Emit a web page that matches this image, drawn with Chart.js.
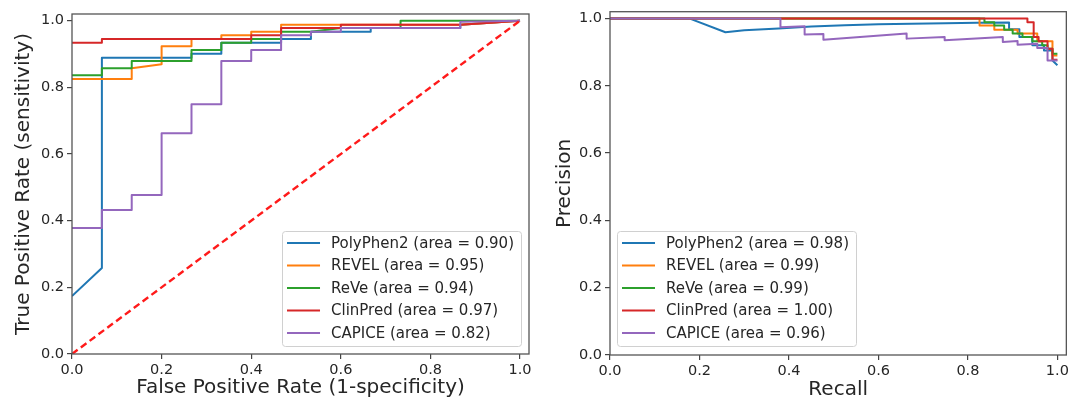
<!DOCTYPE html>
<html>
<head>
<meta charset="utf-8">
<title>ROC and precision-recall curves</title>
<script src="https://cdn.jsdelivr.net/npm/chart.js@4.4.1/dist/chart.umd.min.js"></script>
<style>
  html, body { margin: 0; padding: 0; background: #fff; }
  #wrap { position: relative; width: 1072px; height: 405px; }
  .panel { position: absolute; top: 0; width: 536px; height: 405px; }
  #rocPanel { left: 0; }
  #prPanel { left: 536px; }
</style>
</head>
<body>
<div id="wrap">
  <div class="panel" id="rocPanel"><canvas id="rocChart" width="536" height="405"></canvas></div>
  <div class="panel" id="prPanel"><canvas id="prChart" width="536" height="405"></canvas></div>
</div>
<script>
const methods = ['PolyPhen2', 'REVEL', 'ReVe', 'ClinPred', 'CAPICE'];
const rocAreas = ['0.90', '0.95', '0.94', '0.97', '0.82'];
const prAreas = ['0.98', '0.99', '0.99', '1.00', '0.96'];
const tickValues = [0, 0.2, 0.4, 0.6, 0.8, 1.0];

// ROC curves as [false positive rate, true positive rate]
const polyphen2Roc = [[0, 0.174], [0.0667, 0.258], [0.0667, 0.889], [0.2667, 0.889], [0.2667, 0.901],
  [0.3333, 0.901], [0.3333, 0.934], [0.4667, 0.934], [0.4667, 0.945], [0.5333, 0.945], [0.5333, 0.967],
  [0.6667, 0.967], [0.6667, 0.978], [0.8667, 0.978], [0.8667, 0.988], [1, 1]];
const revelRoc = [[0, 0.825], [0.1333, 0.825], [0.1333, 0.857], [0.2, 0.869], [0.2, 0.923], [0.2667, 0.923],
  [0.2667, 0.945], [0.3333, 0.945], [0.3333, 0.956], [0.4, 0.956], [0.4, 0.967], [0.4667, 0.967],
  [0.4667, 0.988], [0.8667, 0.988], [1, 1]];
const reveRoc = [[0, 0.836], [0.0667, 0.836], [0.0667, 0.857], [0.1333, 0.857], [0.1333, 0.879],
  [0.2667, 0.879], [0.2667, 0.912], [0.3333, 0.912], [0.3333, 0.934], [0.4, 0.934], [0.4, 0.945],
  [0.4667, 0.945], [0.4667, 0.967], [0.5333, 0.967], [0.6, 0.978], [0.7333, 0.978], [0.7333, 1], [1, 1]];
const clinpredRoc = [[0, 0.934], [0.0667, 0.934], [0.0667, 0.945], [0.4, 0.945], [0.4, 0.956], [0.4667, 0.956],
  [0.4667, 0.978], [0.6, 0.978], [0.6, 0.988], [0.8667, 0.988], [1, 1]];
const capiceRoc = [[0, 0.378], [0.0667, 0.378], [0.0667, 0.432], [0.1333, 0.432], [0.1333, 0.477], [0.2, 0.477],
  [0.2, 0.662], [0.2667, 0.662], [0.2667, 0.749], [0.3333, 0.749], [0.3333, 0.879], [0.4, 0.879], [0.4, 0.912],
  [0.4667, 0.912], [0.4667, 0.956], [0.5333, 0.956], [0.5333, 0.967], [0.6, 0.967], [0.6, 0.978],
  [0.8667, 0.978], [0.8667, 0.997], [1, 1]];
const chanceLine = [[0, 0], [1, 1]];

// precision-recall curves as [recall, precision]
const polyphen2Pr = [[0, 1], [0.177, 1], [0.258, 0.959], [0.30, 0.965], [0.377, 0.970], [0.45, 0.976],
  [0.525, 0.980], [0.60, 0.983], [0.673, 0.984], [0.75, 0.986], [0.82, 0.987], [0.892, 0.988],
  [0.892, 0.968], [0.915, 0.968], [0.915, 0.945], [0.944, 0.945], [0.944, 0.920], [0.970, 0.920],
  [0.970, 0.905], [0.989, 0.905], [0.989, 0.875], [1, 0.861]];
const revelPr = [[0, 1], [0.826, 1], [0.826, 0.979], [0.859, 0.979], [0.859, 0.966], [0.911, 0.966],
  [0.911, 0.955], [0.955, 0.955], [0.955, 0.932], [0.989, 0.932], [0.989, 0.890], [1, 0.890]];
const revePr = [[0, 1], [0.837, 1], [0.837, 0.989], [0.859, 0.989], [0.859, 0.979], [0.881, 0.979],
  [0.881, 0.966], [0.900, 0.966], [0.900, 0.955], [0.922, 0.955], [0.922, 0.945], [0.944, 0.945],
  [0.944, 0.932], [0.966, 0.932], [0.966, 0.920], [0.978, 0.920], [0.978, 0.910], [0.989, 0.910],
  [0.989, 0.895], [1, 0.895]];
const clinpredPr = [[0, 1], [0.933, 1], [0.933, 0.989], [0.947, 0.989], [0.947, 0.945], [0.958, 0.945],
  [0.958, 0.932], [0.978, 0.932], [0.978, 0.910], [0.989, 0.910], [0.989, 0.877], [1, 0.877]];
const capicePr = [[0, 1], [0.381, 1], [0.381, 0.974], [0.435, 0.977], [0.435, 0.952], [0.477, 0.954],
  [0.477, 0.937], [0.663, 0.955], [0.663, 0.940], [0.748, 0.945], [0.748, 0.935], [0.878, 0.945],
  [0.878, 0.930], [0.911, 0.933], [0.911, 0.922], [0.955, 0.925], [0.955, 0.912], [0.978, 0.912],
  [0.978, 0.875], [1, 0.875]];

const lineColors = ['#1f77b4', '#ff7f0e', '#2ca02c', '#d62728', '#9467bd'];
const fontFamily = '"DejaVu Sans", sans-serif';
const textColor = '#262626';

Chart.defaults.font.family = fontFamily;
Chart.defaults.color = textColor;

// one line per method, later methods drawn on top
function curveDatasets(curves, areas) {
    return curves.map((points, i) => ({
        label: methods[i] + ' (area = ' + areas[i] + ')',
        data: points.map(p => ({ x: p[0], y: p[1] })),
        borderColor: lineColors[i],
        borderWidth: 2,
        borderJoinStyle: 'round',
        pointRadius: 0,
        showLine: true,
        order: curves.length - i
    }));
}

function linearAxis(title, titlePadding, fitSize, isX) {
    return {
        type: 'linear',
        min: 0,
        max: 1.02,
        afterBuildTicks: scale => {
            scale.ticks = tickValues.map(v => ({ value: v }));
        },
        ticks: {
            callback: v => v.toFixed(1),
            font: { size: 14.5 },
            color: textColor,
            padding: 3,
            maxRotation: 0,
            autoSkip: false
        },
        grid: {
            drawOnChartArea: false,
            drawTicks: true,
            tickLength: 5,
            tickColor: '#444',
            lineWidth: 1.2
        },
        border: { display: false },
        title: {
            display: true,
            text: title,
            font: { size: 20 },
            color: textColor,
            padding: titlePadding
        },
        afterFit: scale => {
            if (isX) scale.height = fitSize;
            else scale.width = fitSize;
        }
    };
}

// axes frame and the legend box with its line samples
function framePlugin(labels, corner) {
    return {
        id: 'frameAndLegend',
        afterDatasetsDraw(chart) {
            const ctx = chart.ctx;
            const area = chart.chartArea;
            ctx.save();
            ctx.strokeStyle = '#555';
            ctx.lineWidth = 1.3;
            ctx.strokeRect(area.left, area.top, area.right - area.left, area.bottom - area.top);

            ctx.font = '15px ' + fontFamily;
            const textWidth = Math.max(...labels.map(t => ctx.measureText(t).width));
            const w = 5 + 33 + 11 + textWidth + 7;
            const h = 115;
            const x = corner === 'right' ? area.right - 8 - w : area.left + 7;
            const y = area.bottom - (corner === 'right' ? 8 : 9) - h;

            ctx.beginPath();
            ctx.roundRect(Math.round(x) + 0.5, Math.round(y) + 0.5, Math.round(w), h, 3);
            ctx.fillStyle = 'rgba(255,255,255,0.8)';
            ctx.fill();
            ctx.strokeStyle = '#d0d0d0';
            ctx.lineWidth = 1;
            ctx.stroke();

            labels.forEach((t, i) => {
                const cy = y + 12 + i * 22.5;
                ctx.strokeStyle = lineColors[i];
                ctx.lineWidth = 2;
                ctx.beginPath();
                ctx.moveTo(x + 5, cy);
                ctx.lineTo(x + 38, cy);
                ctx.stroke();
                ctx.fillStyle = textColor;
                ctx.textBaseline = 'middle';
                ctx.textAlign = 'left';
                ctx.fillText(t, x + 49, cy + 1);
            });
            ctx.restore();
        }
    };
}

function makeChart(canvasId, datasets, axes, padding, legendLabels, corner) {
    return new Chart(document.getElementById(canvasId), {
        type: 'scatter',
        data: { datasets: datasets },
        options: {
            responsive: false,
            animation: false,
            devicePixelRatio: 1,
            layout: { padding: padding },
            plugins: { legend: { display: false }, tooltip: { enabled: false } },
            scales: axes
        },
        plugins: [framePlugin(legendLabels, corner)]
    });
}

const rocDatasets = curveDatasets([polyphen2Roc, revelRoc, reveRoc, clinpredRoc, capiceRoc], rocAreas);
rocDatasets.push({
    label: 'chance',
    data: chanceLine.map(p => ({ x: p[0], y: p[1] })),
    borderColor: '#ff1a1a',
    borderWidth: 2.4,
    borderDash: [7, 4],
    pointRadius: 0,
    showLine: true,
    order: 0
});

makeChart('rocChart', rocDatasets, {
    x: linearAxis('False Positive Rate (1-specificity)', { top: 0, bottom: 5 }, 51, true),
    y: linearAxis('True Positive Rate (sensitivity)', { top: 12, bottom: 0 }, 72, false)
}, { left: 0, top: 14, right: 7, bottom: 0 }, rocDatasets.slice(0, 5).map(d => d.label), 'right');

const prDatasets = curveDatasets([polyphen2Pr, revelPr, revePr, clinpredPr, capicePr], prAreas);

makeChart('prChart', prDatasets, {
    x: linearAxis('Recall', { top: 0, bottom: 3 }, 50, true),
    y: linearAxis('Precision', { top: 17, bottom: 0 }, 74, false)
}, { left: 0, top: 11, right: 4, bottom: 0 }, prDatasets.map(d => d.label), 'left');
</script>
</body>
</html>
